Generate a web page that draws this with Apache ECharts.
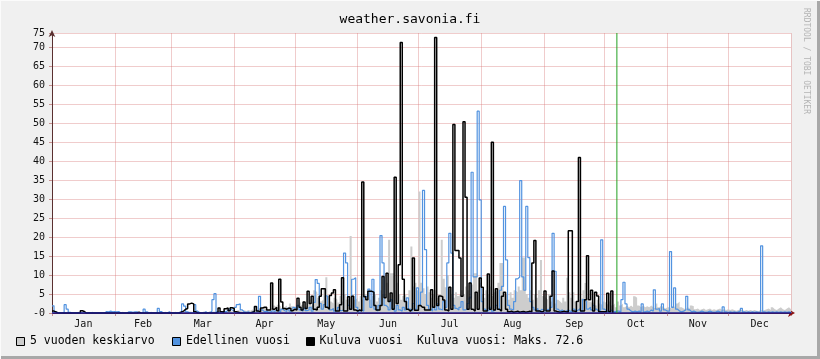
<!DOCTYPE html>
<html><head><meta charset="utf-8">
<script src="https://cdn.jsdelivr.net/npm/echarts@6/dist/echarts.min.js"></script>
<style>html,body{margin:0;padding:0;background:#f0f0f0}#c{width:820px;height:359px}</style>
</head><body><div id="c"></div>
<script>
const titleText = 'weather.savonia.fi';
const monthNames = ['Jan','Feb','Mar','Apr','May','Jun','Jul','Aug','Sep','Oct','Nov','Dec'];
const monthDays = [31,28,31,30,31,30,31,31,30,31,30,31];
const seriesNames = ['5 vuoden keskiarvo','Edellinen vuosi','Kuluva vuosi'];
const nowDay = 279;
const yMax = 73.8;
const yTopLabel = '75';

// 5-year average, daily (mm)
const avg5 = [
0.2,0.3,0.2,0.1,0.2,0.3,0.2,0.1,0.2,0.2,0.1,0.2,0.3,0.2,0.1,0.2,0.2,0.1,0.2,0.3,0.2,0.1,0.2,0.2,0.1,0.2,0.3,0.2,0.1,0.2,0.2,
0.2,0.1,0.2,0.3,0.2,0.1,0.2,0.2,0.1,0.2,0.3,0.2,0.1,0.2,0.2,0.1,0.2,0.3,0.2,0.1,0.2,0.2,0.1,0.2,0.3,0.2,0.1,0.2,
0.2,0.3,0.2,0.3,0.4,0.3,0.2,0.3,0.4,0.3,0.2,0.3,0.5,0.3,0.2,0.4,0.3,0.2,0.5,0.3,0.4,0.3,0.6,0.4,0.3,0.5,0.4,0.6,0.5,0.4,0.6,
0.5,0.8,0.6,0.4,0.7,0.5,0.8,0.6,0.9,0.7,1.0,0.8,1.2,0.9,1.5,1.0,0.8,1.3,1.1,2.0,1.5,2.2,1.8,1.2,1.6,2.0,1.4,2.5,1.8,1.5,
2.0,1.5,2.8,2.2,3.0,1.8,2.5,3.5,2.0,6.0,5.5,4.0,3.0,3.5,6.5,9.4,4.5,3.0,2.5,4.0,3.5,2.8,4.5,3.0,5.0,3.5,4.0,20.3,5.0,3.5,4.0,
3.0,4.5,3.5,5.0,4.0,5.5,3.5,4.5,5.0,3.0,4.0,6.0,5.0,4.5,8.0,19.3,10.5,10.5,6.0,8.0,5.0,3.5,4.5,5.0,3.0,6.0,17.5,7.0,8.0,6.0,
32.0,8.0,6.5,5.0,7.0,5.5,4.0,5.0,6.0,4.0,5.0,19.3,9.0,6.8,10.0,7.0,5.0,4.0,5.5,4.5,5.0,6.0,5.0,7.0,6.0,4.5,7.5,10.5,10.5,6.0,8.0,
5.0,4.0,6.0,5.0,7.0,4.5,5.5,6.0,8.0,13.2,13.2,4.5,5.0,3.5,5.5,4.0,6.0,5.5,7.0,6.0,14.6,14.6,5.0,4.0,6.0,3.5,5.0,4.0,6.0,14.0,4.5,
4.0,3.5,5.0,3.0,4.0,2.5,3.5,3.0,2.5,4.0,3.0,9.3,5.5,4.0,5.5,3.0,2.5,3.5,4.0,6.0,7.9,4.0,3.0,2.5,3.0,2.0,3.5,2.5,2.0,3.0,
2.5,2.0,3.0,2.0,2.5,1.5,3.0,2.0,2.5,1.5,2.0,1.5,2.0,1.5,4.4,4.0,2.0,1.5,2.0,1.5,1.8,1.5,2.0,1.5,1.2,2.5,1.5,2.0,1.5,1.2,1.5,
1.5,1.2,1.8,1.5,2.5,3.0,1.5,1.2,1.0,1.5,1.2,2.0,1.8,1.0,1.2,0.8,1.0,1.2,0.8,1.0,1.2,0.8,1.0,0.8,1.0,1.2,0.8,1.0,0.8,1.0,
0.8,1.0,0.8,0.6,0.8,1.0,0.8,0.6,0.8,0.6,0.8,0.6,0.8,0.6,0.5,0.8,0.6,0.8,1.0,1.2,0.8,1.5,1.0,0.8,1.2,1.5,1.0,0.8,1.2,1.5,1.0
];

// previous year, daily (mm)
const prevYear = [
1.9,0.3,0,0,0,0.2,2.2,1.0,0.2,0,0,0,0,0,0,0,0,0,0,0,0,0,0,0,0,0,0.4,0.3,0.5,0.3,0.4,
0.3,0.4,0,0,0,0,0.3,0.3,0.2,0.3,0.3,0,0,0,1.0,0.3,0,0,0,0,0,1.2,0.4,0,0,0,0.3,0,
0,0,0,0.2,0,2.4,1.8,0.3,0,0,0,2.2,0.5,0,0,0,0.3,0,0,0.5,3.5,5.1,0.3,0,0,0.5,0.3,0.8,1.2,0.8,0.6,
1.5,2.2,2.4,0.8,0.3,0.2,0.3,0,0.2,0.5,1.7,0.5,4.4,0.8,0.3,0.5,0.2,0.3,0.6,0.4,0.8,0.5,0.3,1.0,0.6,0.4,1.2,0.5,0.8,1.5,
1.0,2.0,0.8,0.5,1.2,0.6,0.8,1.5,0.5,2.8,8.8,7.8,2.5,1.0,2.2,4.5,1.5,0.8,1.2,0.5,0.8,1.5,0.6,0.8,15.8,13.2,2.0,1.0,8.9,9.3,1.5,
0.5,0.8,0.5,4.4,4.4,6.3,1.5,8.9,1.0,0.5,2.0,20.4,13.2,2.0,1.5,0.8,3.5,1.2,0.5,2.0,0.8,0.5,1.5,0.8,4.0,1.0,0.5,2.5,1.0,6.6,
2.0,5.5,32.3,16.7,2.0,1.0,0.5,1.5,0.8,2.5,1.0,0.8,3.0,1.5,13.2,21.0,15.8,2.0,1.2,0.8,1.5,3.0,0.8,1.0,2.5,4.0,37.1,9.5,9.5,53.2,29.8,
3.0,1.0,0.5,0.8,1.5,0.5,0.8,2.0,1.0,6.0,7.0,28.1,14.0,2.0,1.0,0.8,3.0,9.0,9.5,34.9,9.5,6.0,28.1,14.6,3.0,1.5,0.8,1.2,0.5,1.0,0.8,
0.5,1.0,0.5,1.5,21.0,11.0,1.0,0.5,0.8,0.3,0.5,0.8,0.5,0.3,1.0,0.5,0.8,1.2,0.5,3.5,3.0,1.0,1.5,0.8,2.0,1.0,0.5,0.8,19.3,1.0,
0.5,0.3,0.8,0.5,0.3,0.5,0.5,0.3,3.5,8.1,2.4,1.0,0.5,0.3,0.5,0.3,0.5,0.3,2.4,0.3,0.5,0.3,0.8,0.5,6.1,1.0,1.2,0.5,2.4,0.8,0.5,
0.5,16.2,1.5,6.6,1.0,0.5,0.3,0.5,0.8,4.4,0.8,0.3,0.5,0.3,0.2,0.3,0.5,0.3,0.2,0.3,0.5,0.3,0.2,0.3,0.5,0.3,0.2,1.6,0.3,0.2,
0.3,0.2,0.3,0.2,0.3,0.5,1.2,0.3,0.2,0.3,0.2,0.3,0.2,0.3,0.2,0.3,17.7,0.3,0.2,0.3,0.2,0.3,0.2,0.3,0.2,0.3,0.2,0.3,0.2,0.3,0.2
];

// current year so far, daily (mm)
const curYear = [
0.5,0.3,0,0,0,0,0,0,0,0,0,0,0,0,0.6,0.4,0,0,0,0,0,0,0,0,0,0,0,0,0,0,0,
0,0,0,0,0,0,0,0,0,0,0,0.2,0,0,0,0,0,0,0,0,0,0,0,0,0,0,0,0,
0,0,0,0,0.3,0.5,1.0,1.2,2.4,2.6,2.4,0.3,0,0,0,0,0,0,0,0,0,0,0.2,1.3,0.3,0.2,1.1,1.3,0.6,1.4,1.2,
0.3,0.2,0,0,0,0,0,0,0.2,0.3,1.7,0.5,0.3,1.3,1.5,1.5,0.8,0.8,7.9,1.0,1.5,0.6,8.9,2.9,1.2,1.0,1.3,1.2,0.6,1.0,
0.8,3.9,1.5,0.8,2.9,1.2,5.7,2.5,4.4,1.0,0.8,1.5,4.4,6.4,6.4,1.5,1.0,4.6,5.3,6.1,0.5,0.5,2.2,9.3,0.5,0.5,4.3,1.0,4.4,0.8,0.5,
0.8,0.5,34.5,4.3,3.5,5.7,5.7,5.5,2.0,0.8,0.8,2.0,9.6,4.0,10.5,3.0,5.3,1.0,35.8,2.5,12.7,71.3,8.9,3.0,1.0,0.5,1.0,14.5,0.7,0.7,
2.0,1.5,1.5,0.8,0.8,0.8,6.1,1.5,72.6,2.0,4.5,4.3,3.4,0.8,0.5,6.8,1.0,49.7,16.5,16.5,14.5,4.4,50.4,30.5,1.0,7.9,1.0,0.5,5.5,1.0,9.2,
6.8,0.5,0.5,10.3,1.0,45.0,0.8,6.4,1.0,0.5,4.4,5.5,1.0,0.3,0.5,0.2,0.3,0.5,0.2,0.3,0.4,0.2,0.3,0.5,0.3,13.2,19.1,0.5,0.5,0.3,0.5,
5.8,0.5,0.5,4.4,11.1,0.5,0.3,0.2,0.3,0.5,0.3,0.2,21.7,21.7,0.5,0.3,3.0,41.0,0.5,0.5,3.5,15.1,3.5,6.0,0.5,5.5,4.5,0.3,0.3,0.3,
0.3,5.2,0.3,5.8
];

const monthStarts = [0];
monthDays.forEach(d => monthStarts.push(monthStarts[monthStarts.length - 1] + d));
const monthMids = monthDays.map((d, i) => monthStarts[i] + d / 2);
const yearDays = monthStarts[monthStarts.length - 1];

function stepData(vals, dropToZero) {
  const out = vals.map((v, i) => [i, v]);
  out.push([vals.length, vals[vals.length - 1]]);
  if (dropToZero) out.push([vals.length, 0]);
  return out;
}

const maxCur = Math.max(...curYear).toFixed(1);
const mono = '"DejaVu Sans Mono", "Liberation Mono", monospace';
const gridColor = 'rgba(215,120,120,0.38)';

const chart = echarts.init(document.getElementById('c'), null, {renderer: 'canvas'});
chart.setOption({
  animation: false,
  backgroundColor: '#f0f0f0',
  title: {
    text: titleText, left: 'center', top: 8,
    textStyle: {fontFamily: mono, fontSize: 13, fontWeight: 'normal', color: '#000'}
  },
  grid: {left: 52, right: 29, top: 33, bottom: 46, show: true, backgroundColor: '#ffffff', borderWidth: 0},
  xAxis: {
    type: 'value', min: 0, max: yearDays,
    axisLine: {show: true, lineStyle: {color: '#8b1010', width: 1}, symbol: ['none', 'arrow'], symbolSize: [6, 7], symbolOffset: [0, 4]},
    axisTick: {show: true, customValues: monthStarts, length: 3, lineStyle: {color: '#c89090'}},
    axisLabel: {
      customValues: monthMids, margin: 6,
      fontFamily: mono, fontSize: 10, color: '#111',
      formatter: v => monthNames[monthMids.indexOf(v)] || ''
    },
    splitLine: {show: true, lineStyle: {color: gridColor, width: 1}}
  },
  yAxis: {
    type: 'value', min: 0, max: yMax, interval: 5,
    axisLine: {show: true, lineStyle: {color: '#5a3030', width: 1}, symbol: ['none', 'arrow'], symbolSize: [5, 7], symbolOffset: [0, 3]},
    axisTick: {show: true, length: 3, lineStyle: {color: '#c89090'}},
    axisLabel: {
      margin: 7, fontFamily: mono, fontSize: 10, color: '#111',
      formatter: v => v === 0 ? '-0' : (v > 72 ? yTopLabel : String(v))
    },
    splitLine: {show: true, lineStyle: {color: gridColor, width: 1}}
  },
  series: [
    {
      name: seriesNames[0], type: 'line', step: 'end', showSymbol: false, silent: true,
      data: stepData(avg5, true),
      lineStyle: {width: 0, color: '#c8c8c8'},
      areaStyle: {color: '#cdcdcd', opacity: 1},
      z: 2
    },
    {
      name: seriesNames[1], type: 'line', step: 'end', showSymbol: false, silent: true,
      data: stepData(prevYear, true),
      lineStyle: {width: 1.2, color: '#5293e0'},
      z: 3
    },
    {
      name: seriesNames[2], type: 'line', step: 'end', showSymbol: false, silent: true,
      data: stepData(curYear, true),
      lineStyle: {width: 1.5, color: '#000000'},
      z: 4,
      markLine: {
        silent: true, symbol: 'none', label: {show: false}, animation: false,
        lineStyle: {color: '#1a1a8a', width: 1.5, type: 'solid', opacity: 1},
        emphasis: {disabled: true},
        data: [{yAxis: 0}]
      }
    },
    {
      name: 'now', type: 'line', showSymbol: false, silent: true,
      data: [[nowDay, 0], [nowDay, yMax]],
      lineStyle: {width: 1, color: '#22a022'},
      itemStyle: {color: '#22a022'},
      z: 5
    }
  ],
  graphic: [
    {type: 'rect', left: 817, top: 0, shape: {width: 3, height: 359}, style: {fill: '#a8a8a8'}, silent: true},
    {type: 'rect', left: 0, top: 356, shape: {width: 820, height: 3}, style: {fill: '#a8a8a8'}, silent: true},
    {type: 'rect', left: 0, top: 0, shape: {width: 820, height: 1}, style: {fill: '#fbfbfb'}, silent: true},
    {type: 'rect', left: 0, top: 0, shape: {width: 1, height: 359}, style: {fill: '#fbfbfb'}, silent: true},
    {type: 'text', x: 806, y: 8, rotation: -Math.PI / 2,
      style: {text: 'RRDTOOL / TOBI OETIKER', fill: '#b4b4b4', font: '8px ' + mono, textAlign: 'left', textVerticalAlign: 'middle'}},
    {type: 'rect', shape: {x: 16.5, y: 337.5, width: 8, height: 8}, style: {fill: '#cdcdcd', stroke: '#000', lineWidth: 1}},
    {type: 'text', x: 30, y: 341.5, style: {text: seriesNames[0], fill: '#000', font: '11.5px ' + mono, textVerticalAlign: 'middle'}},
    {type: 'rect', shape: {x: 172.5, y: 337.5, width: 8, height: 8}, style: {fill: '#5293e0', stroke: '#000', lineWidth: 1}},
    {type: 'text', x: 186, y: 341.5, style: {text: seriesNames[1], fill: '#000', font: '11.5px ' + mono, textVerticalAlign: 'middle'}},
    {type: 'rect', shape: {x: 306.5, y: 337.5, width: 8, height: 8}, style: {fill: '#000', stroke: '#000', lineWidth: 1}},
    {type: 'text', x: 319.5, y: 341.5, style: {text: seriesNames[2], fill: '#000', font: '11.5px ' + mono, textVerticalAlign: 'middle'}},
    {type: 'text', x: 417, y: 341.5, style: {text: seriesNames[2] + ': Maks. ' + maxCur, fill: '#000', font: '11.5px ' + mono, textVerticalAlign: 'middle'}}
  ]
});
</script>
</body></html>
